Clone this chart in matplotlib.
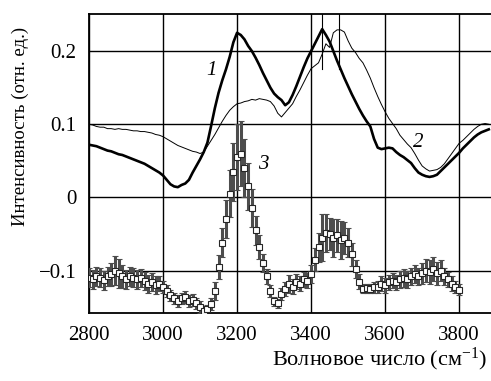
import matplotlib
matplotlib.use("Agg")
import matplotlib.pyplot as plt
import numpy as np

plt.rcParams['font.family'] = ['Liberation Serif', 'DejaVu Serif']
plt.rcParams['mathtext.fontset'] = 'custom'
plt.rcParams['mathtext.rm'] = 'Liberation Serif'
plt.rcParams['mathtext.it'] = 'Liberation Serif:italic'

# ---- data ----
wn_lines = list(range(2800, 3881, 10))
curve1 = [0.072, 0.071, 0.070, 0.068, 0.066, 0.064, 0.063, 0.061, 0.059, 0.058,
          0.056, 0.054, 0.052, 0.050, 0.048, 0.046, 0.043, 0.040, 0.037, 0.034,
          0.030, 0.024, 0.018, 0.015, 0.014, 0.017, 0.019, 0.024, 0.034, 0.043,
          0.052, 0.062, 0.075, 0.098, 0.122, 0.143, 0.160, 0.175, 0.192, 0.212,
          0.225, 0.222, 0.216, 0.207, 0.200, 0.191, 0.181, 0.170, 0.160, 0.150,
          0.142, 0.137, 0.133, 0.126, 0.130, 0.140, 0.152, 0.165, 0.178, 0.190,
          0.200, 0.210, 0.220, 0.230, 0.222, 0.213, 0.200, 0.187, 0.175, 0.163,
          0.152, 0.141, 0.131, 0.121, 0.112, 0.104, 0.097, 0.080, 0.068, 0.066,
          0.067, 0.068, 0.067, 0.062, 0.058, 0.055, 0.051, 0.047, 0.040, 0.034,
          0.031, 0.029, 0.028, 0.029, 0.031, 0.036, 0.041, 0.046, 0.051, 0.056,
          0.061, 0.067, 0.072, 0.077, 0.082, 0.086, 0.089, 0.091, 0.093]
curve2 = [0.100, 0.099, 0.097, 0.096, 0.096, 0.094, 0.094, 0.093, 0.094, 0.093,
          0.093, 0.092, 0.091, 0.091, 0.090, 0.090, 0.089, 0.088, 0.086, 0.085,
          0.083, 0.080, 0.077, 0.074, 0.071, 0.069, 0.067, 0.065, 0.063, 0.062,
          0.060, 0.062, 0.070, 0.078, 0.086, 0.095, 0.104, 0.112, 0.119, 0.124,
          0.128, 0.129, 0.131, 0.132, 0.134, 0.133, 0.135, 0.134, 0.133, 0.131,
          0.125, 0.115, 0.110, 0.116, 0.122, 0.128, 0.138, 0.147, 0.157, 0.167,
          0.176, 0.180, 0.184, 0.196, 0.210, 0.205, 0.225, 0.229, 0.229, 0.226,
          0.214, 0.204, 0.198, 0.190, 0.184, 0.174, 0.163, 0.150, 0.138, 0.127,
          0.117, 0.108, 0.101, 0.094, 0.085, 0.079, 0.073, 0.068, 0.060, 0.051,
          0.043, 0.039, 0.036, 0.037, 0.038, 0.041, 0.046, 0.053, 0.060, 0.067,
          0.074, 0.078, 0.083, 0.088, 0.093, 0.097, 0.100, 0.101, 0.100]

wn3 = list(range(2800, 3801, 10))
curve3 = [-0.110, -0.112, -0.108, -0.110, -0.113, -0.108, -0.105, -0.100, -0.104, -0.108,
          -0.112, -0.108, -0.110, -0.112, -0.110, -0.114, -0.118, -0.116, -0.120, -0.118,
          -0.122, -0.128, -0.134, -0.138, -0.142, -0.138, -0.136, -0.142, -0.140, -0.145,
          -0.150, -0.155, -0.153, -0.146, -0.128, -0.095, -0.062, -0.030, 0.005, 0.035,
          0.055, 0.060, 0.040, 0.015, -0.015, -0.045, -0.068, -0.090, -0.108, -0.128,
          -0.142, -0.145, -0.132, -0.125, -0.118, -0.122, -0.115, -0.118, -0.112, -0.114,
          -0.105, -0.085, -0.068, -0.055, -0.048, -0.050, -0.055, -0.052, -0.058, -0.055,
          -0.062, -0.078, -0.098, -0.115, -0.125, -0.124, -0.125, -0.123, -0.122, -0.118,
          -0.120, -0.116, -0.114, -0.116, -0.112, -0.110, -0.112, -0.108, -0.105, -0.108,
          -0.104, -0.100, -0.102, -0.098, -0.104, -0.100, -0.108, -0.112, -0.118, -0.122,
          -0.126]
err3 = [0.013, 0.013, 0.013, 0.013, 0.013, 0.013, 0.016, 0.020, 0.020, 0.016,
        0.013, 0.013, 0.013, 0.013, 0.012, 0.012, 0.012, 0.012, 0.012, 0.010,
        0.008, 0.008, 0.008, 0.008, 0.008, 0.008, 0.008, 0.008, 0.008, 0.008,
        0.008, 0.006, 0.006, 0.008, 0.012, 0.016, 0.020, 0.026, 0.032, 0.040,
        0.045, 0.045, 0.040, 0.032, 0.026, 0.020, 0.016, 0.012, 0.010, 0.008,
        0.006, 0.006, 0.008, 0.010, 0.012, 0.010, 0.010, 0.010, 0.010, 0.010,
        0.012, 0.016, 0.020, 0.032, 0.026, 0.022, 0.026, 0.022, 0.026, 0.022,
        0.020, 0.016, 0.012, 0.010, 0.006, 0.006, 0.006, 0.008, 0.008, 0.010,
        0.010, 0.010, 0.010, 0.010, 0.012, 0.012, 0.012, 0.012, 0.012, 0.012,
        0.014, 0.016, 0.016, 0.016, 0.016, 0.014, 0.012, 0.010, 0.010, 0.008,
        0.008]

xticks = [2800, 3000, 3200, 3400, 3600, 3800]
yticks = [-0.1, 0.0, 0.1, 0.2]
yticklabels = ['\u22120.1', '0', '0.1', '0.2']
markers_x = [3429, 3476]

# ---- figure ----
W, H = 491, 381
fig = plt.figure(figsize=(W / 100, H / 100), dpi=100)
ax = fig.add_axes([89 / W, 1 - 313 / H, (W - 89) / W, (313 - 14) / H])
ax.set_xlim(2800, 3886)
ax.set_ylim(-0.158, 0.2507)

ax.set_xticks(xticks)
ax.set_yticks(yticks)
ax.set_yticklabels(yticklabels)
ax.tick_params(length=0, labelsize=15, pad=9)
ax.grid(True, color='black', lw=1.0)
ax.set_axisbelow(True)
for s in ['left', 'top', 'bottom']:
    ax.spines[s].set_linewidth(1.3)
ax.spines['right'].set_visible(False)

ax.errorbar(wn3, curve3, yerr=err3, fmt='s', ms=5, mfc='white', mec='0.15',
            mew=0.8, ecolor='0.3', elinewidth=2.2, capsize=2.5, capthick=1.0,
            zorder=3)
ax.plot(wn_lines, curve2, color='black', lw=0.7, zorder=4)
ax.plot(wn_lines, curve1, color='black', lw=1.9, zorder=4)

for mx in markers_x:
    ax.plot([mx, mx], [0.2507, 0.176], color='black', lw=0.8, zorder=4)

ax.text(3132, 0.173, '1', style='italic', fontsize=15, ha='center', va='center')
ax.text(3690, 0.075, '2', style='italic', fontsize=15, ha='center', va='center')
ax.text(3270, 0.045, '3', style='italic', fontsize=15, ha='center', va='center')

fig.text(20 / W, 1 - 126 / H, 'Интенсивность (отн. ед.)', rotation=90,
         ha='center', va='center', fontsize=13.5)
fig.text(487 / W, 1 - 359 / H, 'Волновое число (см$^{-1}$)', ha='right',
         va='center', fontsize=16)

fig.savefig('out.png', dpi=100)
